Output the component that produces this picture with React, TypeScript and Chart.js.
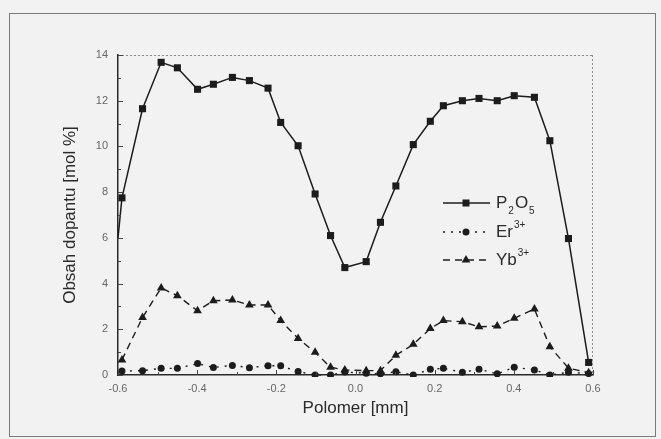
import React, { useEffect, useRef } from "react";
import { Chart, registerables } from "chart.js";

Chart.register(...registerables);

// Measurement positions along the fibre [mm]
const xPositions = [
  -0.59, -0.538, -0.491, -0.45, -0.399, -0.359, -0.311, -0.268, -0.221, -0.189,
  -0.145, -0.102, -0.063, -0.027, 0.027, 0.063, 0.102, 0.146, 0.189, 0.222,
  0.27, 0.312, 0.358, 0.401, 0.452, 0.491, 0.538, 0.589,
];

// P2O5 concentration [mol %]
const p2o5Values = [
  7.75, 11.65, 13.68, 13.44, 12.5, 12.72, 13.02, 12.88, 12.55, 11.05,
  10.03, 7.92, 6.1, 4.7, 4.96, 6.68, 8.27, 10.08, 11.1, 11.78,
  12.0, 12.1, 12.0, 12.22, 12.15, 10.25, 5.97, 0.55,
];
// line start at the left edge of the profile (no marker)
const p2o5LeadX = -0.6;
const p2o5LeadY = 6.0;

// Er3+ concentration [mol %]
const erValues = [
  0.17, 0.19, 0.29, 0.29, 0.5, 0.33, 0.42, 0.32, 0.41, 0.4,
  0.15, 0.0, 0.0, 0.13, 0.08, 0.05, 0.14, 0.0, 0.25, 0.29,
  0.12, 0.25, 0.05, 0.34, 0.22, 0.0, 0.12, 0.06,
];

// Yb3+ concentration [mol %]
const ybValues = [
  0.66, 2.52, 3.81, 3.47, 2.81, 3.25, 3.28, 3.06, 3.06, 2.38,
  1.6, 0.99, 0.34, 0.22, 0.19, 0.19, 0.86, 1.34, 2.03, 2.38,
  2.33, 2.11, 2.14, 2.48, 2.89, 1.24, 0.3, 0.1,
];

const xMin = -0.6;
const xMax = 0.6;
const xStep = 0.2;
const xMinorStep = 0.1;
const yMin = 0;
const yMax = 14;
const yStep = 2;
const yMinorStep = 1;

const xTitle = "Polomer [mm]";
const yTitle = "Obsah dopantu [mol %]";

type Part = [string, "n" | "sub" | "sup"];
const legendP2O5: Part[] = [["P", "n"], ["2", "sub"], ["O", "n"], ["5", "sub"]];
const legendEr: Part[] = [["Er", "n"], ["3+", "sup"]];
const legendYb: Part[] = [["Yb", "n"], ["3+", "sup"]];

const FONT = '"Liberation Sans", Arial, sans-serif';
const INK = "#1c1c1c";
const BG = "#f2f2f2";

function drawMarker(ctx: CanvasRenderingContext2D, style: string, x: number, y: number) {
  ctx.beginPath();
  if (style === "rect") {
    ctx.rect(x - 3.5, y - 3.5, 7, 7);
  } else if (style === "circle") {
    ctx.arc(x, y, 3.5, 0, Math.PI * 2);
  } else {
    const r = 5;
    ctx.moveTo(x, y - r);
    ctx.lineTo(x + 0.866 * r, y + 0.5 * r);
    ctx.lineTo(x - 0.866 * r, y + 0.5 * r);
    ctx.closePath();
  }
  ctx.fill();
}

function drawRich(ctx: CanvasRenderingContext2D, x: number, y: number, parts: Part[]) {
  let cx = x;
  ctx.textBaseline = "middle";
  ctx.textAlign = "left";
  for (const [t, k] of parts) {
    if (k === "n") {
      ctx.font = `17px ${FONT}`;
      ctx.fillText(t, cx, y);
      cx += ctx.measureText(t).width;
    } else if (k === "sub") {
      ctx.font = `10px ${FONT}`;
      ctx.fillText(t, cx + 1, y + 8);
      cx += ctx.measureText(t).width + 2;
    } else {
      ctx.font = `10px ${FONT}`;
      ctx.fillText(t, cx + 1, y - 7);
      cx += ctx.measureText(t).width + 2;
    }
  }
}

const framePlugin = {
  id: "frame",
  beforeDraw(chart: any) {
    const { ctx, width, height } = chart;
    ctx.save();
    ctx.fillStyle = BG;
    ctx.fillRect(0, 0, width, height);
    ctx.strokeStyle = "#7a7a7a";
    ctx.lineWidth = 1;
    ctx.strokeRect(9.5, 13.5, 646, 423);
    ctx.restore();
  },
  afterDraw(chart: any) {
    const { ctx, chartArea, scales } = chart;
    const { left, right, top, bottom } = chartArea;
    const xs = scales.x;
    const ys = scales.y;
    ctx.save();
    // top and right frame (light dotted)
    ctx.strokeStyle = "#8a8a8a";
    ctx.lineWidth = 1;
    ctx.setLineDash([2, 2]);
    ctx.beginPath();
    ctx.moveTo(left, top + 0.5);
    ctx.lineTo(right, top + 0.5);
    ctx.moveTo(right - 0.5, top);
    ctx.lineTo(right - 0.5, bottom);
    ctx.stroke();
    ctx.setLineDash([]);
    // inner tick marks
    ctx.strokeStyle = "#444";
    ctx.beginPath();
    const nx = Math.round((xMax - xMin) / xMinorStep);
    for (let i = 0; i <= nx; i++) {
      const v = xMin + i * xMinorStep;
      const px = Math.round(xs.getPixelForValue(v)) + 0.5;
      const len = i % Math.round(xStep / xMinorStep) === 0 ? 5 : 3;
      ctx.moveTo(px, bottom);
      ctx.lineTo(px, bottom - len);
    }
    const ny = Math.round((yMax - yMin) / yMinorStep);
    for (let i = 0; i <= ny; i++) {
      const v = yMin + i * yMinorStep;
      const py = Math.round(ys.getPixelForValue(v)) + 0.5;
      const len = i % Math.round(yStep / yMinorStep) === 0 ? 5 : 3;
      ctx.moveTo(left, py);
      ctx.lineTo(left + len, py);
    }
    ctx.stroke();

    // legend
    const rows: { y: number; dash: number[]; marker: string; parts: Part[] }[] = [
      { y: 203, dash: [], marker: "rect", parts: legendP2O5 },
      { y: 232, dash: [2, 6], marker: "circle", parts: legendEr },
      { y: 260, dash: [7, 5], marker: "triangle", parts: legendYb },
    ];
    ctx.fillStyle = INK;
    ctx.strokeStyle = INK;
    ctx.lineWidth = 1.4;
    for (const r of rows) {
      ctx.setLineDash(r.dash);
      ctx.beginPath();
      ctx.moveTo(443, r.y);
      ctx.lineTo(490, r.y);
      ctx.stroke();
      ctx.setLineDash([]);
      drawMarker(ctx, r.marker, 466, r.y);
      ctx.fillStyle = "#2a2a2a";
      drawRich(ctx, 496, r.y, r.parts);
      ctx.fillStyle = INK;
    }
    ctx.restore();
  },
};

export default function App() {
  const canvasRef = useRef<HTMLCanvasElement | null>(null);

  useEffect(() => {
    const canvas = canvasRef.current;
    if (!canvas) return;

    const p2o5Data = [{ x: p2o5LeadX, y: p2o5LeadY }].concat(
      xPositions.map((x, i) => ({ x, y: p2o5Values[i] }))
    );
    const p2o5Radius = [0].concat(xPositions.map(() => 5));
    const erData = xPositions.map((x, i) => ({ x, y: erValues[i] }));
    const ybData = xPositions.map((x, i) => ({ x, y: ybValues[i] }));

    const chart = new Chart(canvas, {
      type: "line",
      data: {
        datasets: [
          {
            label: "Er3+",
            data: erData,
            borderColor: INK,
            backgroundColor: INK,
            borderWidth: 1.4,
            borderDash: [2, 6],
            pointStyle: "circle",
            pointRadius: 3.5,
            pointBorderWidth: 0,
            tension: 0,
            clip: { left: 6, right: 6, top: 6, bottom: 2 } as any,
          },
          {
            label: "Yb3+",
            data: ybData,
            borderColor: INK,
            backgroundColor: INK,
            borderWidth: 1.4,
            borderDash: [7, 5],
            pointStyle: "triangle",
            pointRadius: 5,
            pointBorderWidth: 0,
            tension: 0,
            clip: { left: 6, right: 6, top: 6, bottom: 2 } as any,
          },
          {
            label: "P2O5",
            data: p2o5Data,
            borderColor: INK,
            backgroundColor: INK,
            borderWidth: 1.5,
            pointStyle: "rect",
            pointRadius: p2o5Radius,
            pointBorderWidth: 0,
            tension: 0,
            clip: { left: 0, right: 6, top: 6, bottom: 2 } as any,
          },
        ],
      },
      options: {
        animation: false,
        responsive: false,
        maintainAspectRatio: false,
        layout: { padding: { left: 60, right: 68, top: 55, bottom: 20 } },
        plugins: {
          legend: { display: false },
          tooltip: { enabled: false },
        },
        scales: {
          x: {
            type: "linear",
            min: xMin,
            max: xMax,
            afterFit: (s: any) => {
              s.height = 44;
            },
            ticks: {
              stepSize: xStep,
              color: "#666",
              padding: 7,
              maxRotation: 0,
              autoSkip: false,
              font: { family: FONT, size: 11 },
              callback: (v: any) => {
                const n = Number(v);
                return (Math.abs(n) < 1e-9 ? 0 : n).toFixed(1);
              },
            },
            grid: { display: false, drawTicks: false },
            border: { display: true, color: "#2a2a2a", width: 1.5 },
            title: {
              display: true,
              text: xTitle,
              color: "#2a2a2a",
              font: { family: FONT, size: 17 },
              padding: 0,
            },
          },
          y: {
            type: "linear",
            min: yMin,
            max: yMax,
            afterFit: (s: any) => {
              s.width = 58;
            },
            ticks: {
              stepSize: yStep,
              color: "#666",
              padding: 10,
              font: { family: FONT, size: 11 },
              callback: (v: any) => String(Math.round(Number(v))),
            },
            grid: { display: false, drawTicks: false },
            border: { display: true, color: "#2a2a2a", width: 1.5 },
            title: {
              display: true,
              text: yTitle,
              color: "#2a2a2a",
              font: { family: FONT, size: 17 },
              padding: 0,
            },
          },
        },
      },
      plugins: [framePlugin],
    });

    return () => {
      chart.destroy();
    };
  }, []);

  return (
    <div
      style={{
        position: "fixed",
        left: 0,
        top: 0,
        width: 661,
        height: 439,
        background: BG,
      }}
    >
      <canvas ref={canvasRef} width={661} height={439} style={{ display: "block" }} />
    </div>
  );
}
